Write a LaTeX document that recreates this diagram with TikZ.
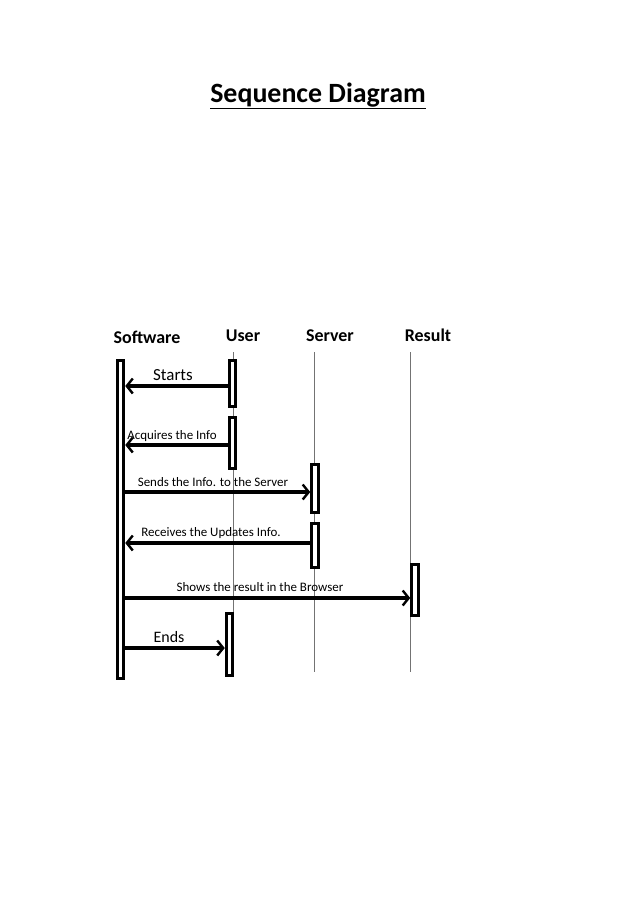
\documentclass[tikz,border=0pt]{standalone}
\usepackage{fontspec}
\setmainfont{Carlito}
\usetikzlibrary{arrows.meta}
\tikzset{
  actbar/.style={draw, line width=3bp, fill=white, minimum width=6.5bp, inner sep=0pt},
  lifeline/.style={draw=black!55, line width=0.8bp},
  msg/.style={line width=3.2bp, -{Straight Barb[length=6bp,width=15bp,line width=2.4bp]}},
  msglabel/.style={font=\fontsize{13}{15}\selectfont, inner sep=0pt},
  head/.style={font=\fontsize{18}{21}\selectfont\bfseries, inner sep=0pt},
}
\begin{document}
\begin{tikzpicture}[x=1bp,y=-1bp]
    \useasboundingbox (0,0) rectangle (638,903);

    % Title
    \node[font=\fontsize{28}{32}\selectfont\bfseries] (title) at (318,96) {\underline{Sequence Diagram}};

    % Headings
    \node[head] (hsw) at (147,337) {Software};
    \node[head] (husr) at (243,336) {User};
    \node[head] (hsrv) at (330,336) {Server};
    \node[head] (hres) at (428,335) {Result};

    % Lifelines
    \draw[lifeline] (233,352) -- (233,672);
    \draw[lifeline] (314,352) -- (314,672);
    \draw[lifeline] (410,352) -- (410,672);

    % Activation bars
    \node[actbar, minimum height=318bp] (sw) at (120.5,519.5) {};
    \node[actbar, minimum height=46bp] (usr1) at (232.5,383.5) {};
    \node[actbar, minimum height=51bp] (usr2) at (232.5,443) {};
    \node[actbar, minimum height=48bp] (srv1) at (315,488.5) {};
    \node[actbar, minimum height=44bp] (srv2) at (315,545.5) {};
    \node[actbar, minimum height=51bp] (res) at (415,590) {};
    \node[actbar, minimum height=62bp] (usr3) at (229.5,644.5) {};

    % Messages
    \coordinate (m1) at (0,386);
    \coordinate (m2) at (0,445);
    \coordinate (m3) at (0,492);
    \coordinate (m4) at (0,543);
    \coordinate (m5) at (0,598);
    \coordinate (m6) at (0,648);

    \draw[msg] (usr1.west |- m1) -- (sw.east |- m1);
    \draw[msg] (usr2.west |- m2) -- (sw.east |- m2);
    \draw[msg] (sw.east |- m3) -- (srv1.west |- m3);
    \draw[msg] (srv2.west |- m4) -- (sw.east |- m4);
    \draw[msg] (sw.east |- m5) -- (res.west |- m5);
    \draw[msg] (sw.east |- m6) -- (usr3.west |- m6);

    % Message labels
    \node[msglabel, font=\fontsize{17}{20}\selectfont] (lstart) at (173,375) {Starts};
    \node[msglabel] (lacq) at (172,436) {Acquires the Info};
    \node[msglabel] (lsend) at (213,482) {Sends the Info. to the Server};
    \node[msglabel] (lrecv) at (211,533) {Receives the Updates Info.};
    \node[msglabel] (lshow) at (260,587) {Shows the result in the Browser};
    \node[msglabel, font=\fontsize{16}{19}\selectfont] (lend) at (169,637) {Ends};
\end{tikzpicture}
\end{document}
